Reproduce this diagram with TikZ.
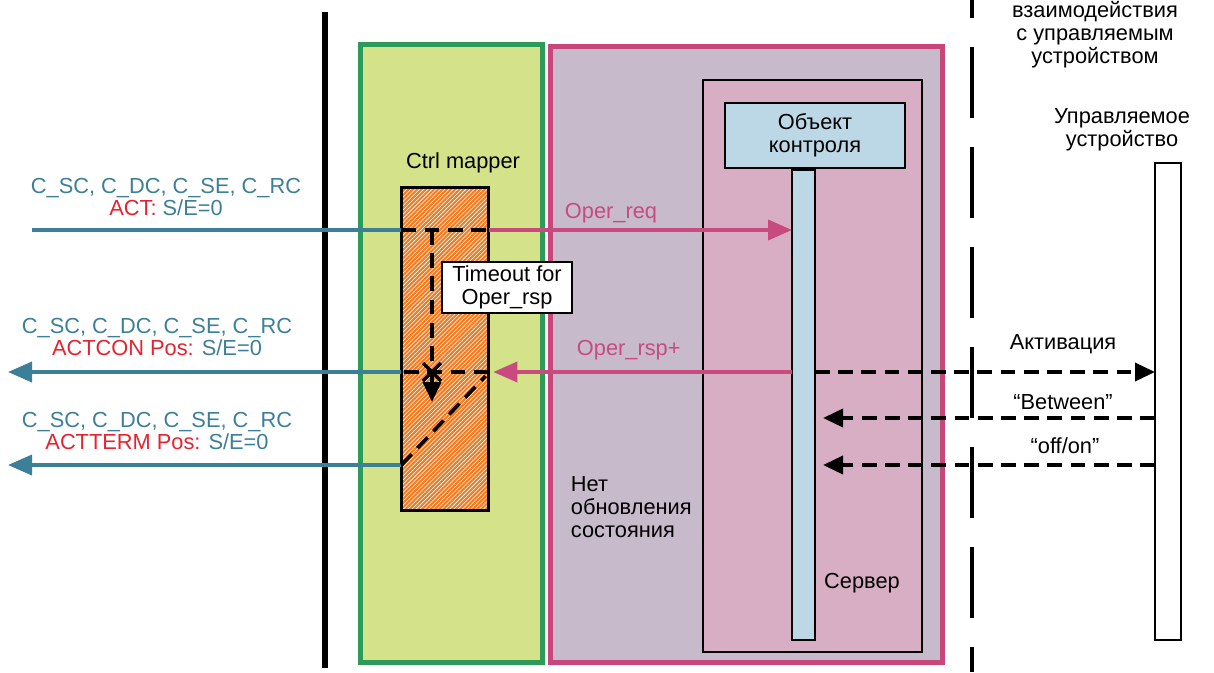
\documentclass[tikz,border=0pt]{standalone}
\usepackage{fontspec}
\setmainfont{Liberation Sans}
\usetikzlibrary{arrows.meta,positioning,patterns}

\definecolor{msgblue}{HTML}{3C7F98}
\definecolor{actred}{HTML}{E52330}
\definecolor{callpink}{HTML}{C94A7E}
\definecolor{mapgreen}{HTML}{2E9A5A}
\definecolor{mapfill}{HTML}{D4E28A}
\definecolor{srvframe}{HTML}{C8467A}
\definecolor{srvfill}{HTML}{C6BACB}
\definecolor{objfill}{HTML}{D7AEC3}
\definecolor{lifeblue}{HTML}{BCD8E6}
\definecolor{hatchorange}{HTML}{F37B22}

\begin{document}
\begin{tikzpicture}[x=0.025cm,y=-0.025cm,font=\fontsize{15.5}{16.3}\selectfont]
  \tikzstyle{box}=[draw,inner sep=0pt,outer sep=0pt]
  \tikzstyle{msg}=[line width=2.6pt,color=msgblue]
  \tikzstyle{call}=[line width=2.6pt,color=callpink]
  \tikzstyle{wire}=[line width=2.6pt,dash pattern=on 10.5pt off 6pt]
  \tikzstyle{bighead}=[-{Triangle[length=0.6cm,width=0.5cm]}]
  \tikzstyle{midhead}=[-{Triangle[length=0.5cm,width=0.45cm]}]

  \useasboundingbox (0,0) rectangle (1214,672);

  % frames
  \draw[line width=4.5pt] (325,12) -- (325,668);
  \draw[line width=3pt,dash pattern=on 1.775cm off 0.725cm,dash phase=1.325cm] (972,0) -- (972,672);

  \node[box,line width=3.5pt,draw=mapgreen,fill=mapfill,minimum width=4.55cm,minimum height=15.45cm] (green) at (451.5,353.5) {};
  \node[box,line width=3.5pt,draw=srvframe,fill=srvfill,minimum width=9.8cm,minimum height=15.4cm] (server) at (746.5,354.5) {};
  \node[box,line width=0.9pt,fill=objfill,minimum width=5.475cm,minimum height=14.3cm] (inner) at (812.5,366) {};
  \node[box,line width=0.9pt,fill=lifeblue,minimum width=4.5cm,minimum height=1.625cm,align=center] (obj) at (815,135.5) {Объект\\контроля};
  \node[box,line width=0.9pt,fill=lifeblue,minimum width=0.575cm,minimum height=11.75cm] (life) at (803.5,405) {};
  \node[box,line width=0.9pt,fill=white,minimum width=0.65cm,minimum height=11.925cm] (dev) at (1168,401.5) {};
  \node[box,line width=2.4pt,preaction={fill=hatchorange},pattern=north east lines,pattern color=white,minimum width=2.175cm,minimum height=8.075cm] (mapper) at (445,349) {};

  % texts
  \node[align=center] (zone) at (1095,35) {взаимодействия\\с управляемым\\устройством};
  \node[align=center] (devlbl) at (1122,130) {Управляемое\\устройство};
  \node (maplbl) at (463,163) {Ctrl mapper};
  \node[align=left,anchor=west] (noupd) at (566,507) {Нет\\обновления\\состояния};
  \node (srvlbl) at (862,583) {Сервер};

  \node[align=center,text=msgblue] (act) at (166,197) {C\_SC, C\_DC, C\_SE, C\_RC\\\textcolor{actred}{ACT:} S/E=0};
  \node[align=center,text=msgblue] (actcon) at (157,337) {C\_SC, C\_DC, C\_SE, C\_RC\\\textcolor{actred}{ACTCON Pos:} S/E=0};
  \node[align=center,text=msgblue] (actterm) at (157,431) {C\_SC, C\_DC, C\_SE, C\_RC\\\textcolor{actred}{ACTTERM Pos:} S/E=0};

  \node[anchor=west,text=callpink] (req) at (560,213) {Oper\_req};
  \node[anchor=west,text=callpink] (rsp) at (572,350) {Oper\_rsp+};
  \node (activ) at (1063,344) {Активация};
  \node (betw) at (1063,402) {“Between”};
  \node (offon) at (1065,446) {“off/on”};

  % rows
  \coordinate (r1) at (32,230);
  \coordinate (r2) at (8,372);
  \coordinate (r3) at (823,418);
  \coordinate (r4) at (8,465);
  \coordinate (xmark) at (432,372);
  \coordinate (tend) at (432,402);

  % messages
  \draw[msg] (r1) -- (r1 -| mapper.west);
  \draw[wire] (r1 -| mapper.west) -- (r1 -| mapper.east);
  \draw[call,bighead] (r1 -| mapper.east) -- (r1 -| life.west);

  \draw[call,bighead] (r2 -| life.west) -- ([xshift=0.12cm]r2 -| mapper.east);
  \draw[wire] (r2 -| mapper.east) -- (r2 -| mapper.west);
  \draw[msg,bighead] (r2 -| mapper.west) -- (r2);
  \draw[wire,midhead] (r2 -| life.east) -- (r2 -| dev.west);

  \draw[wire,midhead] (r3 -| dev.west) -- (r3);
  \draw[wire,midhead] (r3 |- r4 -| dev.west) -- (r3 |- r4);

  \draw[msg,bighead] (r4 -| mapper.west) -- (r4);
  \draw[wire] (r4 -| mapper.west) -- ([shift={(-3,4)}]r2 -| mapper.east);

  % timeout
  \draw[wire,midhead] (r1 -| xmark) -- (tend);
  \draw[line width=2.4pt] (xmark) +(-9,-9) -- +(9,9) (xmark) +(-9,9) -- +(9,-9);
  \node[box,line width=0.9pt,fill=white,minimum width=3.25cm,minimum height=1.275cm,align=center] (timeout) at (507,287.5) {Timeout for\\Oper\_rsp};
\end{tikzpicture}
\end{document}
